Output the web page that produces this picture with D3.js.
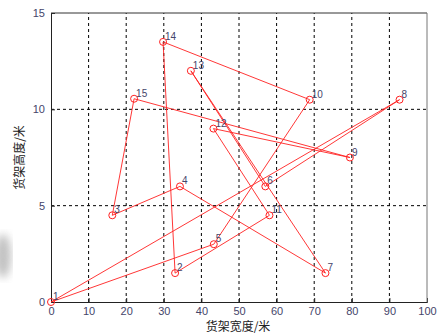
<!DOCTYPE html>
<html>
<head>
<meta charset="utf-8">
<script src="https://cdn.jsdelivr.net/npm/d3@7"></script>
<style>
    body { margin: 0; background: #fff; }
    svg { display: block; font-family: "Liberation Sans", Arial, sans-serif; }
</style>
</head>
<body>
<div id="chart"></div>
<script>
// shelf positions, point id = index + 1
const shelfX = [0, 33, 16.3, 34.3, 43.3, 57, 73, 92.7, 79.5, 68.8, 58.1, 43.2, 37.2, 29.8, 22.1];
const shelfY = [0, 1.5, 4.5, 6, 3, 6, 1.5, 10.5, 7.5, 10.5, 4.5, 9.0, 12.0, 13.5, 10.55];
// visiting order of the route
const route = [1, 5, 10, 14, 2, 11, 12, 9, 15, 3, 4, 7, 13, 6, 8, 1];
const xTicks = [0, 10, 20, 30, 40, 50, 60, 70, 80, 90, 100];
const yTicks = [0, 5, 10, 15];
const xLabel = "货架宽度/米";
const yLabel = "货架高度/米";

const width = 438, height = 334;
const margin = {top: 13, right: 11, bottom: 32, left: 51};
const tickColor = "#45456a";

const svg = d3.select("#chart").append("svg")
    .attr("width", width)
    .attr("height", height);

// faint grey smudge at the left edge of the original image
const defs = svg.append("defs");
defs.append("filter").attr("id", "blur")
    .append("feGaussianBlur").attr("stdDeviation", 4);
svg.append("ellipse")
    .attr("cx", 3).attr("cy", 256).attr("rx", 8).attr("ry", 22)
    .attr("fill", "#999").attr("opacity", 0.6)
    .attr("filter", "url(#blur)");

const x = d3.scaleLinear().domain([0, 100]).range([margin.left, width - margin.right]);
const y = d3.scaleLinear().domain([0, 15]).range([height - margin.bottom, margin.top]);

// dashed grid
const grid = svg.append("g");
grid.selectAll(".vx").data(xTicks.slice(1, -1)).join("line")
    .attr("x1", d => x(d)).attr("x2", d => x(d))
    .attr("y1", y(0)).attr("y2", y(15))
    .attr("stroke", "#000").attr("stroke-width", 1)
    .attr("stroke-dasharray", "3,3");
grid.selectAll(".hy").data(yTicks.slice(1, -1)).join("line")
    .attr("y1", d => y(d)).attr("y2", d => y(d))
    .attr("x1", x(0)).attr("x2", x(100))
    .attr("stroke", "#000").attr("stroke-width", 1)
    .attr("stroke-dasharray", "3,3");

// axes
const xAxis = svg.append("g")
    .attr("transform", `translate(0,${y(0)})`)
    .call(d3.axisBottom(x).tickValues(xTicks).tickSize(-4).tickPadding(5));
const yAxis = svg.append("g")
    .attr("transform", `translate(${x(0)},0)`)
    .call(d3.axisLeft(y).tickValues(yTicks).tickSize(-4).tickPadding(6));

[xAxis, yAxis].forEach(ax => {
    ax.select(".domain").attr("stroke", "#222");
    ax.selectAll(".tick line").attr("stroke", "#222");
    ax.selectAll(".tick text")
        .attr("fill", tickColor)
        .style("font-size", "11px");
});

// box top and right
svg.append("line")
    .attr("x1", x(0)).attr("x2", x(100)).attr("y1", y(15)).attr("y2", y(15))
    .attr("stroke", "#333");
svg.append("line")
    .attr("x1", x(100)).attr("x2", x(100)).attr("y1", y(15)).attr("y2", y(0))
    .attr("stroke", "#777");

// axis titles
svg.append("text")
    .attr("x", 238).attr("y", 331)
    .attr("text-anchor", "middle")
    .attr("fill", "#222")
    .style("font-family", "'Noto Sans CJK SC', sans-serif")
    .style("font-size", "12px")
    .text(xLabel);
svg.append("text")
    .attr("transform", `translate(24,${(y(0) + y(15)) / 2}) rotate(-90)`)
    .attr("text-anchor", "middle")
    .attr("fill", "#222")
    .style("font-family", "'Noto Sans CJK SC', sans-serif")
    .style("font-size", "12px")
    .text(yLabel);

// route line
const line = d3.line()
    .x(id => x(shelfX[id - 1]))
    .y(id => y(shelfY[id - 1]));

svg.append("path")
    .datum(route)
    .attr("d", line)
    .attr("fill", "none")
    .attr("stroke", "#ff2020")
    .attr("stroke-width", 0.9);

const ids = shelfX.map((d, i) => i + 1);

svg.selectAll(".pt").data(ids).join("circle")
    .attr("cx", id => x(shelfX[id - 1]))
    .attr("cy", id => y(shelfY[id - 1]))
    .attr("r", 3.5)
    .attr("fill", "none")
    .attr("stroke", "#ff2020")
    .attr("stroke-width", 1);

svg.selectAll(".lbl").data(ids).join("text")
    .attr("x", id => x(shelfX[id - 1]) + 2)
    .attr("y", id => y(shelfY[id - 1]) - 2)
    .attr("fill", tickColor)
    .style("font-size", "10px")
    .text(id => id);
</script>
</body>
</html>
